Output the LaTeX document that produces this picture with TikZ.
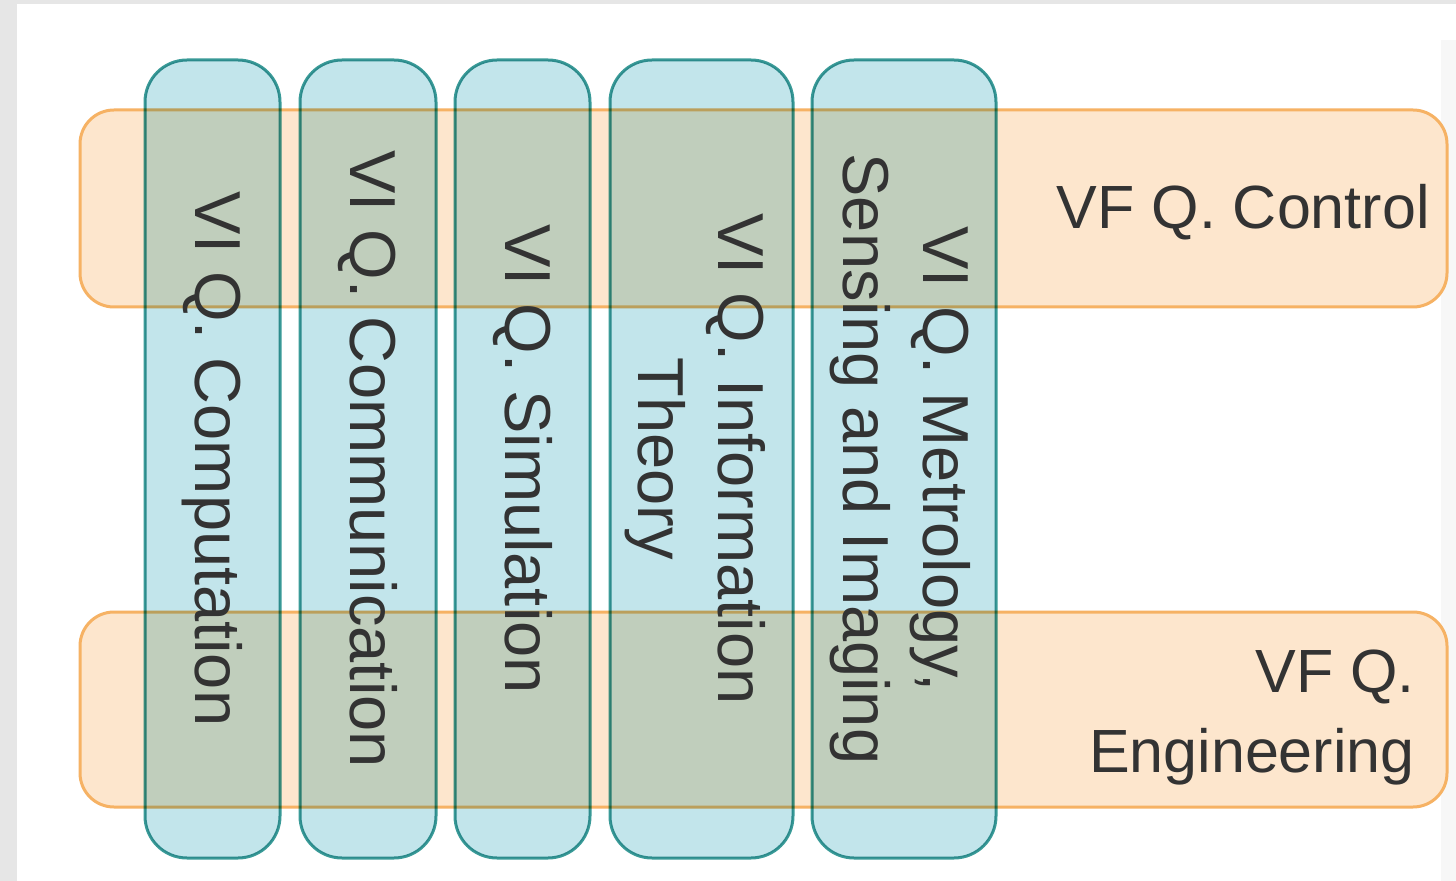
\documentclass[tikz,border=0pt]{standalone}
\usepackage{fontspec}
\setmainfont{Liberation Sans}
\definecolor{bandfill}{HTML}{FDE6CD}
\definecolor{banddraw}{HTML}{F6B264}
\definecolor{colfill}{HTML}{C2E5EB}
\definecolor{coldraw}{HTML}{3A9B98}
\definecolor{inktext}{HTML}{333333}
\definecolor{framegray}{HTML}{E6E6E6}
\tikzset{
  band/.style={draw=banddraw, line width=1.5pt, fill=bandfill,
    rounded corners=17pt, inner sep=0pt},
  column/.style={draw=coldraw, line width=1.5pt, fill=colfill,
    rounded corners=21pt, rotate=-90, minimum width=399pt,
    inner sep=0pt, align=center, text=inktext,
    font=\fontsize{32.5}{40}\selectfont},
  bandlabel/.style={anchor=east, inner sep=0pt, align=right, text=inktext,
    font=\fontsize{30.5}{40}\selectfont}
}
\begin{document}
\begin{tikzpicture}[x=0.5pt, y=-0.5pt]
  \useasboundingbox (0,0) rectangle (1456,881);
  % page frame
  \fill[framegray] (0,0) rectangle (1456,881);
  \fill[white] (17,4) rectangle (1456,881);
  \fill[gray!6] (1441,40) rectangle (1456,881);

  % horizontal bands
  \node[band, minimum width=683.5pt, minimum height=98.5pt] (ctrl) at (763.5,208.5) {};
  \node[band, minimum width=683.5pt, minimum height=97.5pt] (eng) at (763.5,709.5) {};

  % vertical columns, multiplied over the bands
  \begin{scope}[blend mode=multiply]
    \node[column, minimum height=67.5pt] (c1) at (212.5,459) {\phantom{X}};
    \node[column, minimum height=68pt]   (c2) at (368,459)   {\phantom{X}};
    \node[column, minimum height=67.5pt] (c3) at (522.5,459) {\phantom{X}};
    \node[column, minimum height=91.5pt] (c4) at (701.5,459) {\phantom{X}};
    \node[column, minimum height=92pt]   (c5) at (904,459)   {\phantom{X}};
  \end{scope}

  % column texts
  \node[column, draw=none, fill=none] (t1) at (c1.center) {VI Q. Computation};
  \node[column, draw=none, fill=none] (t2) at (c2.center) {VI Q. Communication};
  \node[column, draw=none, fill=none] (t3) at (c3.center) {VI Q. Simulation};
  \node[column, draw=none, fill=none] (t4) at ([xshift=-3pt]c4.center) {VI Q. Information\\Theory};
  \node[column, draw=none, fill=none] (t5) at ([xshift=-2pt]c5.center) {VI Q. Metrology,\\Sensing and Imaging};

  % band labels
  \node[bandlabel] (lc) at (1430,212) {VF Q. Control};
  \node[bandlabel] (le) at (1415,718) {VF Q.\\Engineering};
\end{tikzpicture}
\end{document}
